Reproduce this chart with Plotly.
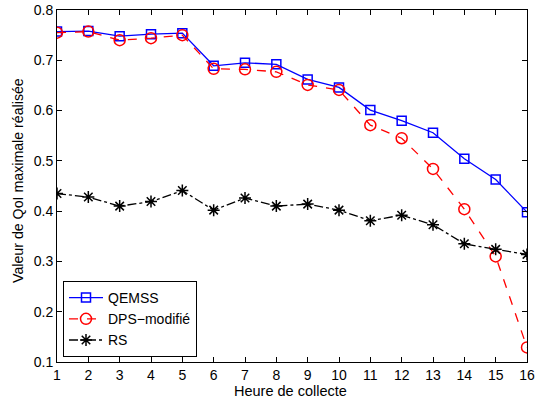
import plotly.graph_objects as go

hours = list(range(1, 17))
qemss = [0.757, 0.758, 0.748, 0.752, 0.754, 0.689, 0.695, 0.692, 0.662, 0.646,
         0.601, 0.580, 0.556, 0.504, 0.463, 0.398]
dps = [0.755, 0.757, 0.740, 0.744, 0.750, 0.683, 0.682, 0.677, 0.651, 0.641,
       0.571, 0.545, 0.484, 0.404, 0.310, 0.129]
rs = [0.435, 0.428, 0.410, 0.419, 0.441, 0.402, 0.426, 0.410, 0.414, 0.402,
      0.381, 0.392, 0.373, 0.335, 0.324, 0.314]

fig = go.Figure()
fig.add_trace(go.Scatter(x=hours, y=qemss, name="QEMSS", mode="lines+markers",
                         line=dict(color="#0000ff", width=1.3),
                         marker=dict(symbol="square-open", size=9, color="#0000ff",
                                     line=dict(width=1.5, color="#0000ff"))))
fig.add_trace(go.Scatter(x=hours, y=dps, name="DPS\u2212modifié", mode="lines+markers",
                         line=dict(color="#ff0000", width=1.3, dash="dash"),
                         marker=dict(symbol="circle-open", size=11, color="#ff0000",
                                     line=dict(width=1.5, color="#ff0000"))))
fig.add_trace(go.Scatter(x=hours, y=rs, name="RS", mode="lines+markers",
                         line=dict(color="#000000", width=1.3, dash="dashdot"),
                         marker=dict(symbol="asterisk-open", size=10, color="#000000",
                                     line=dict(width=1.5, color="#000000"))))

axis_common = dict(showgrid=False, zeroline=False, showline=True, linecolor="black",
                   linewidth=1, mirror="ticks", ticks="inside", ticklen=5,
                   tickcolor="black", tickfont=dict(size=14, color="black"),
                   automargin=False)

L, R, T, B = 57, 21, 10, 39
W, H = 548, 401
pw, ph = W - L - R, H - T - B

fig.update_layout(
    width=W, height=H,
    margin=dict(l=L, r=R, t=T, b=B),
    paper_bgcolor="white", plot_bgcolor="white",
    font=dict(family="Liberation Sans, Arial, sans-serif", size=14, color="black"),
    xaxis=dict(range=[1, 16], tickvals=hours, **axis_common),
    yaxis=dict(range=[0.1, 0.8], tickvals=[0.1, 0.2, 0.3, 0.4, 0.5, 0.6, 0.7, 0.8],
               tickformat=".1f", **axis_common),
    legend=dict(x=6 / pw, y=5 / ph, xanchor="left", yanchor="bottom",
                bordercolor="black", borderwidth=1, bgcolor="white",
                font=dict(size=14), tracegroupgap=0, itemwidth=34),
    annotations=[
        dict(text="Heure de collecte", xref="paper", yref="paper",
             x=(290 - L) / pw, y=-(391 - (T + ph)) / ph, xanchor="center", yanchor="middle",
             showarrow=False, font=dict(size=14.5)),
        dict(text="Valeur de QoI maximale réalisée", xref="paper", yref="paper",
             x=-(L - 18) / pw, y=(T + ph - 181) / ph, xanchor="center", yanchor="middle",
             textangle=-90, showarrow=False, font=dict(size=14.2)),
    ],
)

fig.write_html("out.html", config={"displayModeBar": False},
               post_script="document.body.style.margin='0px';")
